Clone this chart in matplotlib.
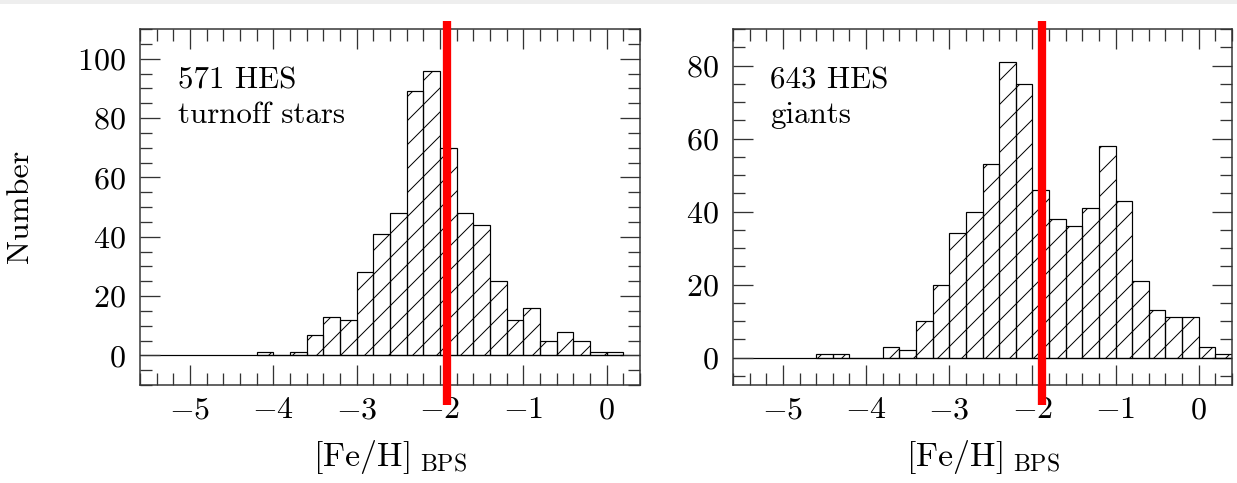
import matplotlib
matplotlib.use("Agg")
import matplotlib.pyplot as plt
from matplotlib.patches import Rectangle
from matplotlib.ticker import MultipleLocator

plt.rcParams["font.family"] = "serif"
plt.rcParams["font.serif"] = ["cmr10"]
plt.rcParams["mathtext.fontset"] = "cm"
plt.rcParams["axes.formatter.use_mathtext"] = True
plt.rcParams["hatch.linewidth"] = 1.0

# histogram data, bins of 0.2 dex in [Fe/H]_BPS
turnoff_bins = [-4.2, -4.0, -3.8, -3.6, -3.4, -3.2, -3.0, -2.8, -2.6, -2.4, -2.2,
                -2.0, -1.8, -1.6, -1.4, -1.2, -1.0, -0.8, -0.6, -0.4, -0.2, 0.0]
turnoff_counts = [1, 0, 1, 7, 13, 12, 28, 41, 48, 89, 96,
                  70, 48, 44, 25, 12, 16, 5, 8, 5, 1, 1]

giant_bins = [-4.6, -4.4, -4.2, -4.0, -3.8, -3.6, -3.4, -3.2, -3.0, -2.8, -2.6, -2.4, -2.2,
              -2.0, -1.8, -1.6, -1.4, -1.2, -1.0, -0.8, -0.6, -0.4, -0.2, 0.0, 0.2]
giant_counts = [1, 1, 0, 0, 3, 2, 10, 20, 34, 40, 53, 81, 75,
                46, 38, 36, 41, 58, 43, 21, 13, 11, 11, 3, 1]

bin_width = 0.2
cut_lines = [-1.92, -1.88]
panel_labels = [["571 HES", "turnoff stars"], ["643 HES", "giants"]]
y_limits = [(-10, 110), (-7.5, 90)]

fig = plt.figure(figsize=(1237 / 72, 483 / 72), dpi=72)
fig.add_artist(Rectangle((0, 1 - 3.5 / 483), 1, 3.5 / 483, transform=fig.transFigure,
                         color="#eeeeee", lw=0))

ax1 = fig.add_axes([140 / 1237, 98 / 483, 500 / 1237, 356 / 483])
ax2 = fig.add_axes([733 / 1237, 98 / 483, 499 / 1237, 356 / 483])

panels = [(ax1, turnoff_bins, turnoff_counts), (ax2, giant_bins, giant_counts)]
for i, (ax, bins, counts) in enumerate(panels):
    ax.axhline(0, color="black", lw=1.2, zorder=1)
    ax.bar(bins, counts, width=bin_width, align="edge", fill=False, hatch="/",
           edgecolor="black", linewidth=1.2, zorder=2)
    ax.plot([cut_lines[i], cut_lines[i]], [-0.056, 1.023], transform=ax.get_xaxis_transform(),
            color="#ff0000", lw=8.3, solid_capstyle="butt", clip_on=False, zorder=5)

    ax.set_xlim(-5.6, 0.4)
    ax.set_ylim(*y_limits[i])
    ax.xaxis.set_major_locator(MultipleLocator(1))
    ax.xaxis.set_minor_locator(MultipleLocator(0.2))
    ax.yaxis.set_major_locator(MultipleLocator(20))
    ax.yaxis.set_minor_locator(MultipleLocator(5))
    ax.tick_params(which="both", direction="in", top=True, right=True,
                   color="#333333", width=1.3, labelsize=32)
    ax.tick_params(which="major", length=20)
    ax.tick_params(which="minor", length=12)
    ax.tick_params(axis="x", pad=12)
    ax.tick_params(axis="y", pad=14)
    for sp in ax.spines.values():
        sp.set_linewidth(1.5)
        sp.set_color("#333333")

    ax.set_xlabel(r"$\mathrm{[Fe/H]}_{\ \mathrm{BPS}}$", fontsize=34)
    ax.xaxis.set_label_coords(0.5, -0.148)
    for j, line in enumerate(panel_labels[i]):
        ax.text(0.075, 0.834 - 0.098 * j, line, transform=ax.transAxes,
                fontsize=31, va="baseline", ha="left")

ax1.set_ylabel("Number", fontsize=32)
ax1.yaxis.set_label_coords(-0.212, 0.503)

fig.savefig("out.png", dpi=72)
